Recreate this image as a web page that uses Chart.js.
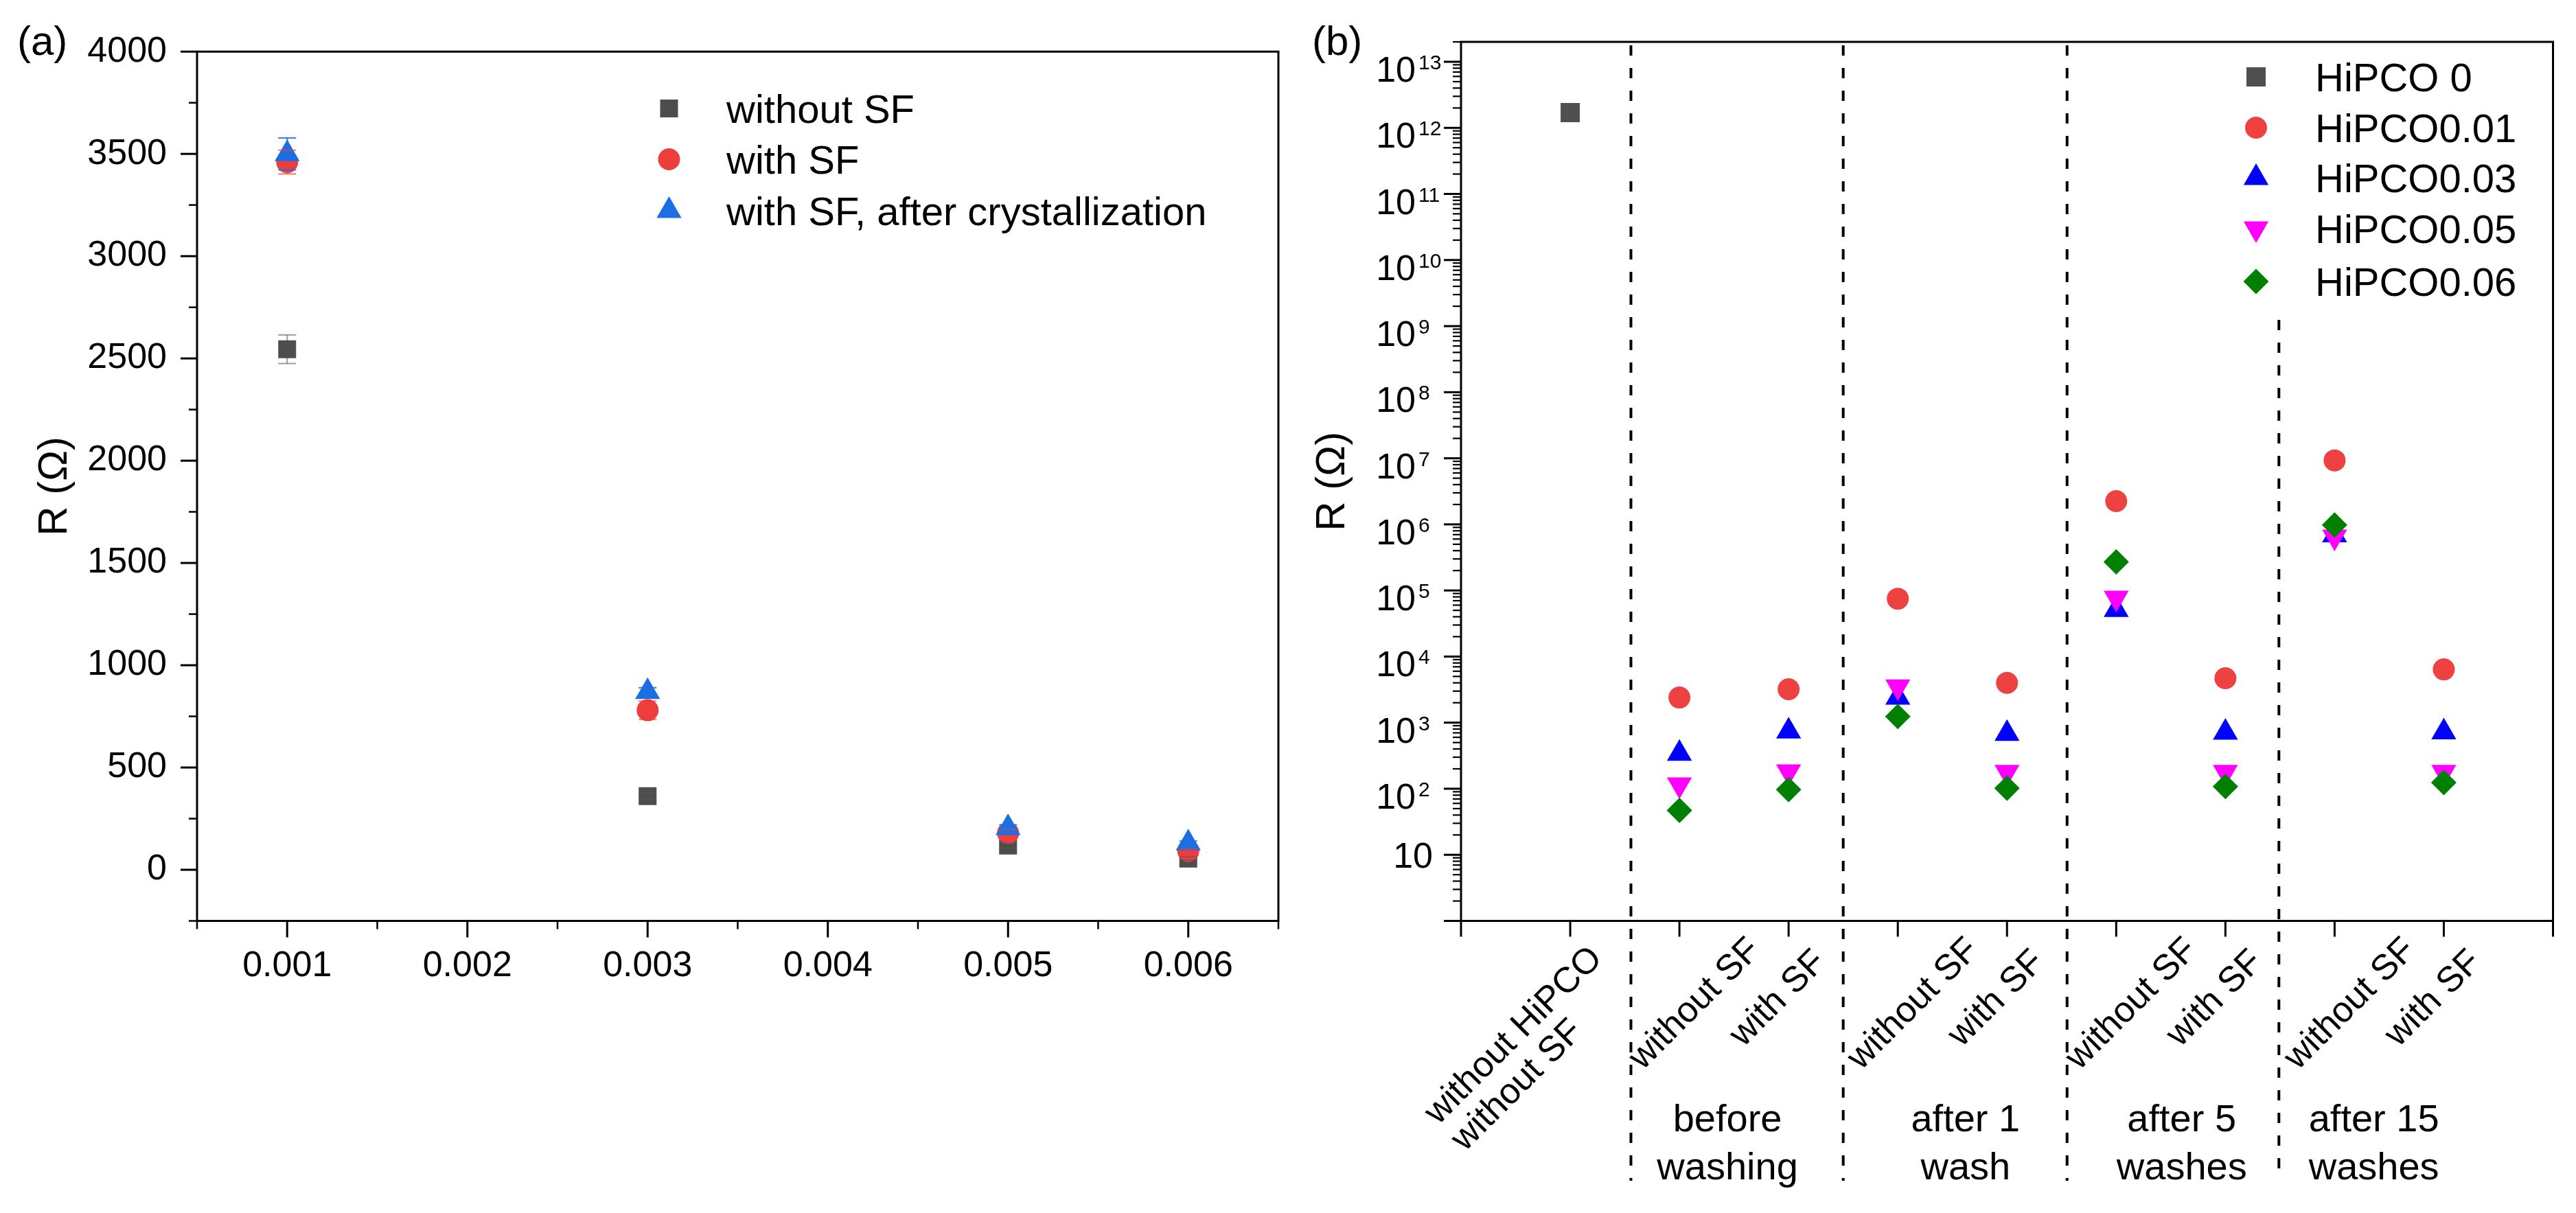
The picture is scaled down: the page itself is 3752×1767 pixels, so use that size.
<!DOCTYPE html>
<html>
<head>
<meta charset="utf-8">
<script src="https://cdn.jsdelivr.net/npm/chart.js@4.4.1/dist/chart.umd.min.js"></script>
<style>
  html, body { margin:0; padding:0; background:#ffffff; }
  body { width:3752px; height:1767px; position:relative; overflow:hidden; }
  canvas { position:absolute; top:0; }
  #chartA { left:0; width:1880px; height:1767px; }
  #chartB { left:1880px; width:1872px; height:1767px; }
</style>
</head>
<body>
<canvas id="chartA" width="1880" height="1767"></canvas>
<canvas id="chartB" width="1872" height="1767"></canvas>
<script>
// ================= DATA: panel (a) =================
const concentrationsA = [0.001, 0.003, 0.005, 0.006];
const seriesNamesA = ['without SF', 'with SF', 'with SF, after crystallization'];
const rWithoutSF = [2545, 360, 118, 55];
const rWithSF = [3460, 780, 180, 92];
const rAfterCryst = [3500, 870, 205, 130];
const errWithoutSF = [70, 15, 12, 8];
const errWithSF = [58, 45, 15, 10];
const errAfterCryst = [78, 20, 15, 10];
const xTickLabelsA = ['0.001', '0.002', '0.003', '0.004', '0.005', '0.006'];
const yTickLabelsA = ['0', '500', '1000', '1500', '2000', '2500', '3000', '3500', '4000'];

// ================= DATA: panel (b) =================
const conditionsB = [['without HiPCO', 'without SF'], ['without SF'], ['with SF'], ['without SF'], ['with SF'],
                     ['without SF'], ['with SF'], ['without SF'], ['with SF']];
const groupsB = [['before', 'washing'], ['after 1', 'wash'], ['after 5', 'washes'], ['after 15', 'washes']];
const seriesNamesB = ['HiPCO 0', 'HiPCO0.01', 'HiPCO0.03', 'HiPCO0.05', 'HiPCO0.06'];
const rHiPCO0   = [1.7e12, null, null, null, null, null, null, null, null];
const rHiPCO001 = [null, 2400, 3200, 75000, 4000, 2.25e6, 4700, 9.3e6, 6400];
const rHiPCO003 = [null, 340, 740, 2400, 680, 51000, 710, 690000, 720];
const rHiPCO005 = [null, 115, 182, 3500, 178, 77000, 178, 650000, 178];
const rHiPCO006 = [null, 47, 97, 1240, 102, 270000, 108, 980000, 124];
const yTickExponentsB = [1, 2, 3, 4, 5, 6, 7, 8, 9, 10, 11, 12, 13];

// ================= STYLE / LAYOUT =================
const FONT = "'Liberation Sans', Arial, Helvetica, sans-serif";
const COLORS_A = ['#4d4d4d', '#ee3d3d', '#1c6fe3'];
const ERRCOLORS_A = ['rgba(90,90,90,0.55)', 'rgba(238,61,61,0.65)', 'rgba(28,111,227,0.85)'];
const MARK_A = [{style:'rect', r:18.4, rot:0}, {style:'circle', r:16, rot:0}, {style:'triangle', r:21, rot:0}];
const COLORS_B = ['#505050', '#ee4141', '#0000ff', '#ff00ff', '#008000'];
const MARK_B = [{style:'rect', r:19.8, rot:0}, {style:'circle', r:16, rot:0}, {style:'triangle', r:21, rot:0},
                {style:'triangle', r:21, rot:180}, {style:'rectRot', r:18.5, rot:0}];
const LAYOUT_B = {
  dividers: [1.556, 3.50, 5.55, 7.49],
  dividerTops: [null, null, null, 466],
  dividerBottom: 1720,
  groupCenters: [2.44, 4.62, 6.60, 8.36],
  groupBaselines: [1648, 1718]
};

function drawMarker(ctx, m, x, y, color) {
  ctx.save();
  ctx.fillStyle = color;
  ctx.beginPath();
  const r = m.r;
  if (m.style === 'rect') {
    const s = r * Math.SQRT1_2;
    ctx.rect(x - s, y - s, 2 * s, 2 * s);
  } else if (m.style === 'circle') {
    ctx.arc(x, y, r, 0, Math.PI * 2);
  } else if (m.style === 'triangle') {
    let a = m.rot * Math.PI / 180;
    for (let k = 0; k < 3; k++) {
      const px = x + Math.sin(a) * r, py = y - Math.cos(a) * r;
      if (k === 0) ctx.moveTo(px, py); else ctx.lineTo(px, py);
      a += 2 * Math.PI / 3;
    }
    ctx.closePath();
  } else if (m.style === 'rectRot') {
    ctx.moveTo(x - r, y); ctx.lineTo(x, y - r); ctx.lineTo(x + r, y); ctx.lineTo(x, y + r);
    ctx.closePath();
  }
  ctx.fill();
  ctx.restore();
}

function line(ctx, x0, y0, x1, y1) {
  ctx.beginPath(); ctx.moveTo(x0, y0); ctx.lineTo(x1, y1); ctx.stroke();
}

// ================= PANEL (a) =================
const valuesA = [rWithoutSF, rWithSF, rAfterCryst];
const errorsA = [errWithoutSF, errWithSF, errAfterCryst];

const datasetsA = valuesA.map((vals, s) => ({
  label: seriesNamesA[s],
  data: vals.map((v, i) => ({x: concentrationsA[i], y: v})),
  pointStyle: MARK_A[s].style,
  pointRadius: MARK_A[s].r,
  pointRotation: MARK_A[s].rot,
  backgroundColor: COLORS_A[s],
  pointBackgroundColor: COLORS_A[s],
  borderColor: COLORS_A[s],
  pointBorderWidth: 0,
  borderWidth: 0,
  showLine: false,
  order: valuesA.length - s
}));

function errBars(chart, part) {
  const {ctx, scales: {x, y}} = chart;
  ctx.save();
  ctx.lineWidth = 2.2;
  valuesA.forEach((vals, s) => {
    ctx.strokeStyle = ERRCOLORS_A[s];
    vals.forEach((v, i) => {
      const e = errorsA[s][i];
      const px = x.getPixelForValue(concentrationsA[i]);
      const yt = y.getPixelForValue(v + e), yb = y.getPixelForValue(v - e);
      if (part === 'stem') {
        line(ctx, px, yt, px, yb);
      } else {
        line(ctx, px - 13, yt, px + 13, yt);
        line(ctx, px - 13, yb, px + 13, yb);
      }
    });
  });
  ctx.restore();
}

const panelAPlugin = {
  id: 'panelA',
  beforeDatasetsDraw(chart) { errBars(chart, 'stem'); },
  afterDatasetsDraw(chart) { errBars(chart, 'caps'); },
  afterDraw(chart) {
    const {ctx, chartArea: a, scales: {x, y}} = chart;
    ctx.save();
    ctx.strokeStyle = '#000';
    // frame
    ctx.lineWidth = 3;
    ctx.strokeRect(a.left, a.top, a.right - a.left, a.bottom - a.top);
    // x ticks
    const xMaj = xTickLabelsA.map(Number);
    const xMin = [x.min].concat(xMaj.slice(1).map((v, i) => (v + xMaj[i]) / 2), [x.max]);
    ctx.lineWidth = 3;
    xMaj.forEach(v => { const p = x.getPixelForValue(v); line(ctx, p, a.bottom, p, a.bottom + 24); });
    ctx.lineWidth = 2.5;
    xMin.forEach(v => { const p = x.getPixelForValue(v); line(ctx, p, a.bottom, p, a.bottom + 12); });
    // y ticks
    const yMaj = yTickLabelsA.map(Number);
    const yMin = [y.min].concat(yMaj.slice(1).map((v, i) => (v + yMaj[i]) / 2));
    ctx.lineWidth = 3;
    yMaj.forEach(v => { const p = y.getPixelForValue(v); line(ctx, a.left - 24, p, a.left, p); });
    ctx.lineWidth = 2.5;
    yMin.forEach(v => { const p = y.getPixelForValue(v); line(ctx, a.left - 12, p, a.left, p); });
    // legend
    ctx.fillStyle = '#000';
    ctx.font = '58px ' + FONT;
    ctx.textAlign = 'left';
    ctx.textBaseline = 'alphabetic';
    const rows = [158, 232, 307];
    seriesNamesA.forEach((name, s) => {
      drawMarker(ctx, MARK_A[s], 974.5, rows[s], COLORS_A[s]);
      ctx.fillText(name, 1058, rows[s] + 21);
    });
    // panel letter
    ctx.font = '60px ' + FONT;
    ctx.fillText('(a)', 25, 80);
    ctx.restore();
  }
};

new Chart(document.getElementById('chartA'), {
  type: 'scatter',
  data: { datasets: datasetsA },
  options: {
    responsive: false,
    animation: false,
    events: [],
    layout: { padding: { left: 0, top: 66, right: 18, bottom: 0 }, autoPadding: false },
    plugins: { legend: { display: false }, tooltip: { enabled: false } },
    scales: {
      x: {
        type: 'linear', position: 'bottom', min: 0.0005, max: 0.0065,
        afterBuildTicks: (s) => { s.ticks = xTickLabelsA.map(t => ({ value: Number(t) })); },
        ticks: {
          autoSkip: false, maxRotation: 0, minRotation: 0, padding: 35,
          color: '#000', font: { family: FONT, size: 52 },
          callback: (v) => {
            const lbl = xTickLabelsA.find(t => Math.abs(parseFloat(t) - v) < 1e-9);
            return lbl || '';
          }
        },
        grid: { display: false, drawTicks: false },
        border: { display: false },
        afterFit: (s) => { s.height = 425.5; }
      },
      y: {
        type: 'linear', position: 'left', min: -250, max: 4000,
        afterBuildTicks: (s) => { s.ticks = yTickLabelsA.map(t => ({ value: Number(t) })); },
        ticks: {
          autoSkip: false, padding: 44,
          color: '#000', font: { family: FONT, size: 52 },
          callback: (v) => {
            const lbl = yTickLabelsA.find(t => Math.abs(Number(t) - v) < 1e-6);
            return lbl || '';
          }
        },
        grid: { display: false, drawTicks: false },
        border: { display: false },
        title: { display: true, text: 'R (Ω)', color: '#000', font: { family: FONT, size: 60 }, padding: { top: 44, bottom: 0 } },
        afterFit: (s) => { s.width = 287; }
      }
    }
  },
  plugins: [panelAPlugin]
});

// ================= PANEL (b) =================
const valuesB = [rHiPCO0, rHiPCO001, rHiPCO003, rHiPCO005, rHiPCO006];

const datasetsB = valuesB.map((vals, s) => ({
  label: seriesNamesB[s],
  data: vals.map((v, i) => (v == null ? null : {x: i + 1, y: v})).filter(p => p !== null),
  pointStyle: MARK_B[s].style,
  pointRadius: MARK_B[s].r,
  pointRotation: MARK_B[s].rot,
  backgroundColor: COLORS_B[s],
  pointBackgroundColor: COLORS_B[s],
  borderColor: COLORS_B[s],
  pointBorderWidth: 0,
  borderWidth: 0,
  showLine: false,
  order: valuesB.length - s
}));

const panelBPlugin = {
  id: 'panelB',
  beforeDatasetsDraw(chart) {
    const {ctx, chartArea: a, scales: {x}} = chart;
    ctx.save();
    ctx.strokeStyle = '#000';
    ctx.lineWidth = 4;
    ctx.setLineDash([15, 18]);
    LAYOUT_B.dividers.forEach((d, k) => {
      const p = x.getPixelForValue(d);
      const top = LAYOUT_B.dividerTops[k] == null ? a.top + 5 : LAYOUT_B.dividerTops[k];
      line(ctx, p, top, p, LAYOUT_B.dividerBottom);
    });
    ctx.restore();
  },
  afterDraw(chart) {
    const {ctx, chartArea: a, scales: {x, y}} = chart;
    ctx.save();
    ctx.strokeStyle = '#000';
    ctx.fillStyle = '#000';
    // frame
    ctx.lineWidth = 3;
    ctx.strokeRect(a.left, a.top, a.right - a.left, a.bottom - a.top);
    // x ticks (every category slot, incl. edges)
    for (let i = 0; i <= conditionsB.length + 1; i++) {
      const p = x.getPixelForValue(i);
      line(ctx, p, a.bottom, p, a.bottom + 23);
    }
    // y ticks (log, major + minor)
    for (let e = 0; e <= 13; e++) {
      for (let m = 1; m <= 9; m++) {
        const v = m * Math.pow(10, e);
        if (v > y.max * 1.0001) break;
        const p = y.getPixelForValue(v);
        ctx.lineWidth = m === 1 ? 3 : 2.2;
        line(ctx, a.left - (m === 1 ? 25 : 12), p, a.left, p);
      }
    }
    // y tick labels with superscripts
    ctx.textBaseline = 'alphabetic';
    yTickExponentsB.forEach(e => {
      const p = y.getPixelForValue(Math.pow(10, e));
      if (e === 1) {
        ctx.font = '52px ' + FONT;
        ctx.textAlign = 'right';
        ctx.fillText('10', a.left - 41, p + 19);
      } else {
        ctx.font = '52px ' + FONT;
        ctx.textAlign = 'right';
        ctx.fillText('10', a.left - 66, p + 29);
        ctx.font = '30px ' + FONT;
        ctx.textAlign = 'left';
        ctx.fillText(String(e), a.left - 62, p + 11);
      }
    });
    // x tick labels (rotated 45 deg)
    ctx.font = '52px ' + FONT;
    conditionsB.forEach((lines, i) => {
      const tick = x.getPixelForValue(i + 1);
      ctx.save();
      if (lines.length > 1) {
        ctx.translate(tick - 82, 1509);
        ctx.rotate(-Math.PI / 4);
        ctx.textBaseline = 'middle';
        ctx.textAlign = 'center';
        ctx.fillText(lines[0], 0, 0);
        const w0 = ctx.measureText(lines[0]).width;
        ctx.textAlign = 'left';
        for (let k = 1; k < lines.length; k++) ctx.fillText(lines[k], -w0 / 2, 55 * k);
      } else {
        const off = lines[0].startsWith('without') ? [23, 1463] : [-15, 1455];
        ctx.translate(tick + off[0], off[1]);
        ctx.rotate(-Math.PI / 4);
        ctx.textBaseline = 'middle';
        ctx.textAlign = 'center';
        ctx.fillText(lines[0], 0, 0);
      }
      ctx.restore();
    });
    // group labels
    ctx.font = '56px ' + FONT;
    ctx.textAlign = 'center';
    ctx.textBaseline = 'alphabetic';
    groupsB.forEach((g, k) => {
      const cx = x.getPixelForValue(LAYOUT_B.groupCenters[k]);
      g.forEach((t, j) => ctx.fillText(t, cx, LAYOUT_B.groupBaselines[j]));
    });
    // legend
    ctx.font = '58px ' + FONT;
    ctx.textAlign = 'left';
    const rows = [112, 186, 259, 333, 410];
    seriesNamesB.forEach((name, s) => {
      drawMarker(ctx, MARK_B[s], 1406, rows[s], COLORS_B[s]);
      ctx.fillText(name, 1492, rows[s] + 21);
    });
    // panel letter
    ctx.font = '60px ' + FONT;
    ctx.fillText('(b)', 31, 80);
    ctx.restore();
  }
};

new Chart(document.getElementById('chartB'), {
  type: 'scatter',
  data: { datasets: datasetsB },
  options: {
    responsive: false,
    animation: false,
    events: [],
    layout: { padding: { left: 0, top: 61, right: 33.5, bottom: 0 }, autoPadding: false },
    plugins: { legend: { display: false }, tooltip: { enabled: false } },
    scales: {
      x: {
        type: 'linear', position: 'bottom', min: 0, max: conditionsB.length + 1,
        ticks: { display: false, stepSize: 1 },
        grid: { display: false, drawTicks: false },
        border: { display: false },
        afterFit: (s) => { s.height = 425.5; }
      },
      y: {
        type: 'logarithmic', position: 'left', min: 1, max: 2e13,
        ticks: { display: false },
        grid: { display: false, drawTicks: false },
        border: { display: false },
        title: { display: true, text: 'R (Ω)', color: '#000', font: { family: FONT, size: 60 }, padding: { top: 25, bottom: 0 } },
        afterFit: (s) => { s.width = 248; }
      }
    }
  },
  plugins: [panelBPlugin]
});
</script>
</body>
</html>
